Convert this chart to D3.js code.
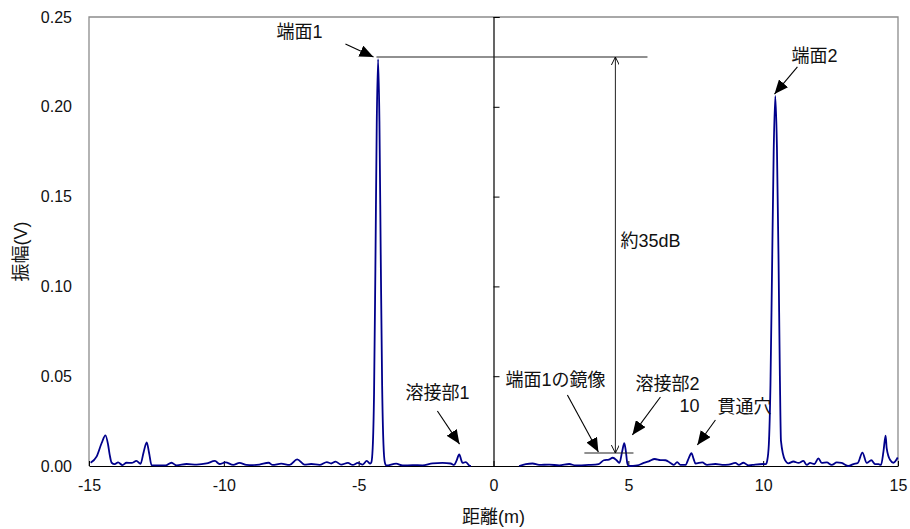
<!DOCTYPE html>
<html>
<head>
<meta charset="utf-8">
<script src="https://cdn.jsdelivr.net/npm/d3@7"></script>
<style>
  html, body { margin: 0; padding: 0; background: #fff; }
  svg { display: block; }
  text { font-family: "Liberation Sans", Arial, "Noto Sans CJK JP", sans-serif; fill: #111; }
</style>
</head>
<body>
<svg id="chart" width="910" height="529"></svg>
<script>
// ---- data ----
// segment 1 (left of the gap), distance in m and amplitude in V
const dist1 = [-14.94,-14.72,-14.53,-14.39,-14.29,-14.23,-14.16,-14.05,-13.92,-13.76,-13.61,-13.42,-13.24,-13.09,-12.97,-12.86,-12.77,-12.68,-12.42,-12.16,-11.94,-11.75,-11.38,-11.01,-10.64,-10.33,-10.16,-9.94,-9.65,-9.42,-9.16,-8.94,-8.68,-8.34,-8.19,-7.87,-7.56,-7.28,-7.01,-6.76,-6.45,-6.18,-6.02,-5.86,-5.65,-5.40,-5.22,-5.03,-4.85,-4.70,-4.57,-4.53,-4.48,-4.43,-4.38,-4.33,-4.28,-4.23,-4.18,-4.13,-4.08,-4.03,-3.98,-3.61,-3.37,-3.00,-2.63,-2.26,-1.89,-1.59,-1.46,-1.37,-1.27,-1.19,-1.15,-1.03,-0.90,-0.84];
const amp1  = [0.0018,0.0052,0.0128,0.0171,0.0117,0.0061,0.0018,0.0010,0.0020,0.0005,0.0018,0.0017,0.0028,0.0012,0.0080,0.0132,0.0071,0.0005,0.0003,0.0003,0.0018,0.0003,0.0011,0.0008,0.0014,0.0028,0.0011,0.0020,0.0006,0.0017,0.0006,0.0005,0.0008,0.0018,0.0006,0.0013,0.0006,0.0037,0.0008,0.0011,0.0006,0.0022,0.0014,0.0024,0.0008,0.0017,0.0006,0.0017,0.0008,0.0028,0.0013,0.002,0.010,0.040,0.110,0.190,0.2265,0.192,0.115,0.045,0.012,0.002,0.0003,0.0013,0.0003,0.0005,0.0004,0.0015,0.0017,0.0014,0.0006,0.0030,0.0065,0.0030,0.0017,0.0022,0.0003,0.0000];
// segment 2 (right of the gap)
const dist2 = [0.95,1.20,1.45,1.69,2.07,2.44,2.81,3.04,3.53,3.90,4.09,4.28,4.42,4.59,4.67,4.77,4.85,4.91,4.96,5.02,5.33,5.57,5.76,5.98,6.19,6.38,6.56,6.69,6.81,6.93,7.12,7.23,7.34,7.42,7.49,7.74,7.92,8.23,8.48,8.72,8.97,9.10,9.27,9.46,9.70,10.01,10.10,10.15,10.21,10.27,10.33,10.39,10.45,10.51,10.57,10.62,10.66,10.81,10.94,11.12,11.31,11.49,11.62,11.74,11.90,12.05,12.17,12.36,12.54,12.73,12.91,13.16,13.35,13.51,13.68,13.84,14.01,14.15,14.28,14.37,14.46,14.54,14.58,14.71,14.83,14.99];
const amp2  = [0.0000,0.0011,0.0014,0.0006,0.0008,0.0003,0.0011,0.0003,0.0006,0.0011,0.0032,0.0036,0.0046,0.0028,0.0017,0.0080,0.0127,0.0080,0.0017,0.0000,0.0003,0.0017,0.0026,0.0039,0.0033,0.0032,0.0017,0.0006,0.0022,0.0006,0.0006,0.0040,0.0071,0.0040,0.0014,0.0020,0.0006,0.0011,0.0006,0.0008,0.0017,0.0006,0.0018,0.0003,0.0008,0.0011,0.0010,0.003,0.012,0.045,0.110,0.175,0.206,0.178,0.115,0.050,0.014,0.0033,0.0015,0.0025,0.0017,0.0028,0.0006,0.0017,0.0011,0.0043,0.0017,0.0020,0.0006,0.0020,0.0017,0.0000,0.0011,0.0017,0.0074,0.0017,0.0032,0.0011,0.0010,0.0006,0.0080,0.0169,0.0100,0.0033,0.0018,0.0047,0.0045];

const xTicks = [-15,-10,-5,0,5,10,15];
const yTicks = [0,0.05,0.10,0.15,0.20,0.25];
const xTitle = "距離(m)";
const yTitle = "振幅(V)";

// annotation labels: text, x (m), y (V)
const labelText = ["端面1","端面2","溶接部1","端面1の鏡像","溶接部2","10","貫通穴","約35dB"];
const labelX    = [-8.05, 11.05, -3.26, 0.445, 5.27, 6.90, 8.31, 4.71];
const labelY    = [0.2383, 0.2249, 0.0373, 0.0445, 0.0423, 0.0301, 0.0295, 0.1219];
// pointer arrows: from (x1,y1) to (x2,y2)
const arrX1 = [-5.49, -2.08, 2.74, 6.19, 8.23, 11.27];
const arrY1 = [0.2350, 0.0306, 0.0395, 0.0384, 0.0256, 0.2222];
const arrX2 = [-4.45, -1.26, 3.89, 5.15, 7.56, 10.42];
const arrY2 = [0.2277, 0.0122, 0.0078, 0.0173, 0.0117, 0.2071];
// dB measurement
const peakLevel = 0.2277, mirrorLevel = 0.0072;
const refLineX = [-4.34, 5.71];
const mirrorLineX = [3.37, 5.19];
const measureX = 4.52;

// ---- chart ----
const svg = d3.select("#chart");
const L = 89, R = 898, T = 17, B = 466;
const x = d3.scaleLinear().domain([-15, 15]).range([L, R]);
const y = d3.scaleLinear().domain([0, 0.25]).range([B, T]);

// plot frame (left, top, right)
svg.append("path")
  .attr("d", `M${L},${B}V${T}H${R}V${B}`)
  .attr("fill", "none").attr("stroke", "#8c8c8c").attr("stroke-width", 1.3);

// x axis at bottom, ticks inward
const xAxis = svg.append("g").attr("transform", `translate(0,${B})`)
  .call(d3.axisBottom(x).tickValues(xTicks).tickSizeInner(-5).tickSizeOuter(0).tickPadding(14)
        .tickFormat(d => (d < 0 ? "-" : "") + Math.abs(d)));
xAxis.select(".domain").attr("stroke", "#000").attr("stroke-width", 1.2);
xAxis.selectAll(".tick line").attr("stroke", "#000");
xAxis.selectAll("text").attr("font-size", 16).attr("fill", "#111")
  .style("font-family", "'Liberation Sans', Arial, sans-serif");

// vertical axis line at x=0 with ticks to the right
const yAxisLine = svg.append("g").attr("transform", `translate(${x(0)},0)`)
  .call(d3.axisRight(y).tickValues(yTicks).tickSize(6).tickFormat(""));
yAxisLine.select(".domain").attr("stroke", "#000").attr("stroke-width", 1.2);
yAxisLine.selectAll(".tick line").attr("stroke", "#000");

// y tick labels at left
const yLab = svg.append("g").attr("transform", `translate(${L},0)`)
  .call(d3.axisLeft(y).tickValues(yTicks).tickSize(0).tickPadding(17).tickFormat(d3.format(".2f")));
yLab.select(".domain").remove();
yLab.selectAll("text").attr("font-size", 16).attr("fill", "#111")
  .style("font-family", "'Liberation Sans', Arial, sans-serif");

// axis titles
svg.append("text").attr("x", x(0)).attr("y", 523).attr("text-anchor", "middle")
  .attr("font-size", 18).text(xTitle);
svg.append("text").attr("transform", `translate(27,${(T + B) / 2 + 10}) rotate(-90)`)
  .attr("text-anchor", "middle").attr("font-size", 18).text(yTitle);

// data line
const line = d3.line().x(d => x(d[0])).y(d => y(d[1])).curve(d3.curveMonotoneX);
const seg1 = dist1.map((d, i) => [d, amp1[i]]);
const seg2 = dist2.map((d, i) => [d, amp2[i]]);
[seg1, seg2].forEach(seg => {
  svg.append("path").datum(seg).attr("d", line)
    .attr("fill", "none").attr("stroke", "#00008b").attr("stroke-width", 1.8)
    .attr("stroke-linejoin", "round");
});

// markers
const defs = svg.append("defs");
defs.append("marker").attr("id", "fillArrow").attr("viewBox", "0 0 14 12")
  .attr("refX", 14).attr("refY", 6).attr("markerWidth", 14).attr("markerHeight", 12)
  .attr("markerUnits", "userSpaceOnUse").attr("orient", "auto")
  .append("path").attr("d", "M0,0L14,6L0,12Z").attr("fill", "#000");
defs.append("marker").attr("id", "openArrow").attr("viewBox", "0 0 10 10")
  .attr("refX", 10).attr("refY", 5).attr("markerWidth", 8).attr("markerHeight", 8)
  .attr("markerUnits", "userSpaceOnUse").attr("orient", "auto-start-reverse")
  .append("path").attr("d", "M0,0L10,5L0,10").attr("fill", "none").attr("stroke", "#000").attr("stroke-width", 1.2);

// measurement lines
svg.append("line").attr("x1", x(refLineX[0])).attr("x2", x(refLineX[1]))
  .attr("y1", y(peakLevel)).attr("y2", y(peakLevel)).attr("stroke", "#222").attr("stroke-width", 1.1);
svg.append("line").attr("x1", x(mirrorLineX[0])).attr("x2", x(mirrorLineX[1]))
  .attr("y1", y(mirrorLevel)).attr("y2", y(mirrorLevel)).attr("stroke", "#222").attr("stroke-width", 1.1);
svg.append("line").attr("x1", x(measureX)).attr("x2", x(measureX))
  .attr("y1", y(peakLevel)).attr("y2", y(mirrorLevel)).attr("stroke", "#222").attr("stroke-width", 1)
  .attr("marker-start", "url(#openArrow)").attr("marker-end", "url(#openArrow)");

// pointer arrows
arrX1.forEach((d, i) => {
  svg.append("line").attr("x1", x(d)).attr("y1", y(arrY1[i]))
    .attr("x2", x(arrX2[i])).attr("y2", y(arrY2[i]))
    .attr("stroke", "#000").attr("stroke-width", 1.1).attr("marker-end", "url(#fillArrow)");
});

// labels
labelText.forEach((t, i) => {
  svg.append("text").attr("x", x(labelX[i])).attr("y", y(labelY[i]))
    .attr("font-size", 18).text(t);
});
</script>
</body>
</html>
